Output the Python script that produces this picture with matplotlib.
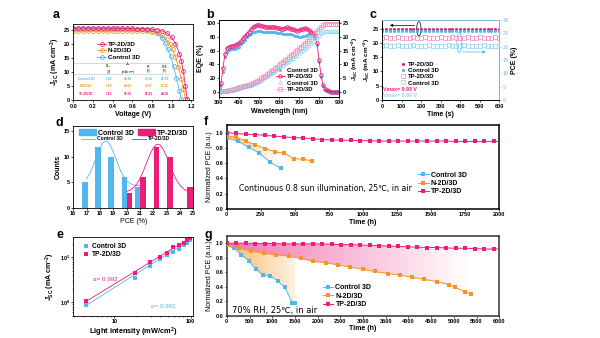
import numpy as np
import matplotlib
matplotlib.use('Agg')
import matplotlib.pyplot as plt
from matplotlib.patches import Ellipse, Polygon, Patch
from matplotlib.colors import to_rgb

plt.rcParams['font.family'] = ['Liberation Sans', 'DejaVu Sans']
plt.rcParams['font.weight'] = 'bold'
plt.rcParams['axes.labelweight'] = 'bold'
plt.rcParams['font.size'] = 4
plt.rcParams['axes.linewidth'] = 0.6
plt.rcParams['xtick.major.width'] = 0.5
plt.rcParams['ytick.major.width'] = 0.5
plt.rcParams['xtick.minor.width'] = 0.4
plt.rcParams['ytick.minor.width'] = 0.4
plt.rcParams['xtick.major.size'] = 1.5
plt.rcParams['ytick.major.size'] = 1.5
plt.rcParams['xtick.major.pad'] = 1
plt.rcParams['ytick.major.pad'] = 1
plt.rcParams['axes.labelpad'] = 1.5
plt.rcParams['mathtext.fontset'] = 'custom'
plt.rcParams['mathtext.rm'] = 'Liberation Sans:bold'
plt.rcParams['mathtext.it'] = 'Liberation Sans:italic:bold'
plt.rcParams['mathtext.bf'] = 'Liberation Sans:bold'

PINK = '#EC1C79'
ORANGE = '#F7931E'
BLUE = '#4DB7EE'
LBLUE = '#8FD3F5'
LPINK = '#F28DBB'
JSC = '$J_{\\rm SC}$ (mA cm$^{-2}$)'

# ---------------- data ----------------
# a: J-V
v_tp = [0, .05, .1, .15, .2, .25, .3, .35, .4, .45, .5, .55, .6, .65, .7, .75, .8, .85, .9, .95,
        1.0, 1.04, 1.08, 1.1, 1.12, 1.14, 1.16]
j_tp = [25.6, 25.6, 25.6, 25.6, 25.6, 25.55, 25.55, 25.55, 25.5, 25.5, 25.5, 25.45, 25.45, 25.4,
        25.35, 25.3, 25.2, 25.0, 24.6, 23.8, 22.3, 20.0, 16.5, 13.8, 10.3, 5.0, 0.4]
v_n = [0, .05, .1, .15, .2, .25, .3, .35, .4, .45, .5, .55, .6, .65, .7, .75, .8, .85, .9, .95,
       .98, 1.01, 1.04, 1.07, 1.1, 1.12, 1.14]
j_n = [24.6, 24.6, 24.6, 24.6, 24.6, 24.6, 24.6, 24.6, 24.6, 24.6, 24.6, 24.6, 24.6, 24.6, 24.6,
       24.5, 24.3, 23.9, 23.1, 21.5, 20.0, 18.0, 15.3, 11.8, 7.3, 4.0, 0.3]
v_c = [0, .05, .1, .15, .2, .25, .3, .35, .4, .45, .5, .55, .6, .65, .7, .75, .8, .85, .9,
       .93, .96, .99, 1.02, 1.05, 1.08, 1.1]
j_c = [25.35, 25.35, 25.35, 25.35, 25.35, 25.35, 25.35, 25.35, 25.35, 25.35, 25.35, 25.35, 25.35,
       25.3, 25.2, 25.0, 24.6, 23.7, 22.0, 20.4, 18.3, 15.5, 12.0, 7.8, 3.3, 0.3]
tab_names = ['Control 3D', 'N-2D/3D', 'TP-2D/3D']
tab_voc = ['1.10', '1.14', '1.16']
tab_jsc = ['25.38', '24.61', '25.56']
tab_ff = ['75.35', '78.67', '81.81']
tab_pce = ['21.09', '22.26', '24.08']

# b: EQE and integrated Jsc
wl = np.arange(300, 901, 10)
eqe_tp = [5, 12, 35, 55, 64, 66, 67, 67, 68, 69, 71, 74, 78, 81, 85, 88, 91, 94, 96, 97,
          97, 96, 96, 95, 95, 94, 94, 95, 94, 93, 93, 92, 92, 93, 94, 93, 92, 91, 90, 89,
          90, 91, 92, 93, 92, 90, 88, 86, 82, 71, 46, 24, 9, 4, 2, 1, 0, 0, 0, 0, 0]
eqe_c = [4, 10, 28, 50, 58, 61, 62, 62, 63, 64, 66, 69, 73, 76, 80, 83, 85, 87, 88, 89,
         89, 89, 88, 88, 88, 87, 87, 87, 87, 86, 86, 86, 85, 85, 85, 84, 84, 83, 82, 81,
         80, 80, 81, 82, 83, 84, 84, 83, 79, 68, 44, 22, 8, 3, 1, 0.5, 0, 0, 0, 0, 0]
int_tp = [0.0, 0.05, 0.1, 0.2, 0.3, 0.45, 0.6, 0.8, 1.0, 1.25, 1.5, 1.7, 1.9, 2.1, 2.3, 2.55,
          2.85, 3.2, 3.55, 3.9, 4.3, 4.8, 5.3, 5.8, 6.35, 6.9, 7.45, 8.0, 8.55, 9.1, 9.7, 10.3,
          10.9, 11.5, 12.1, 12.7, 13.3, 13.9, 14.5, 15.15, 15.8, 16.5, 17.15, 17.8, 18.5, 19.2,
          19.95, 20.7, 21.5, 22.3, 23.0, 23.8, 24.4, 24.7, 24.8, 24.85, 24.9, 24.9, 24.9, 24.9, 24.9]
int_c = [0.0, 0.05, 0.1, 0.2, 0.3, 0.4, 0.55, 0.7, 0.9, 1.1, 1.3, 1.5, 1.7, 1.9, 2.1, 2.3,
         2.55, 2.85, 3.15, 3.5, 3.85, 4.3, 4.75, 5.2, 5.7, 6.2, 6.65, 7.15, 7.65, 8.15, 8.7, 9.2,
         9.75, 10.3, 10.8, 11.35, 11.9, 12.45, 13.0, 13.55, 14.1, 14.7, 15.3, 15.9, 16.5, 17.15,
         17.8, 18.45, 19.15, 19.85, 20.55, 21.3, 21.85, 22.1, 22.2, 22.25, 22.3, 22.3, 22.3, 22.3, 22.3]

# c: steady-state output
t_c = np.arange(0, 601, 20)
jsc_tp_c = [24.9, 24.8, 24.9, 24.8, 24.9, 24.9, 24.8, 24.9, 24.8, 24.9, 24.9, 24.8, 24.9, 24.8, 24.8, 24.9,
            24.9, 24.8, 24.9, 24.8, 24.9, 24.8, 24.9, 24.9, 24.8, 24.9, 24.8, 24.9, 24.8, 24.9, 24.8]
jsc_c_c = [24.1, 24.2, 24.0, 24.1, 24.2, 24.1, 24.0, 24.2, 24.1, 24.1, 24.0, 24.2, 24.1, 24.0, 24.1, 24.2,
           24.1, 24.0, 24.1, 24.2, 24.1, 24.0, 24.1, 24.2, 24.1, 24.1, 24.0, 24.2, 24.1, 24.0, 24.1]
pce_tp_c = [23.4, 23.5, 23.4, 23.4, 23.5, 23.4, 23.3, 23.4, 23.5, 23.4, 23.4, 23.5, 23.4, 23.3, 23.4, 23.5,
            23.4, 23.4, 23.5, 23.4, 23.3, 23.4, 23.5, 23.4, 23.4, 23.5, 23.4, 23.3, 23.4, 23.5, 23.4]
pce_c_c = [20.4, 20.5, 20.3, 20.4, 20.5, 20.4, 20.3, 20.4, 20.5, 20.4, 20.3, 20.4, 20.5, 20.4, 20.4, 20.3,
           20.4, 20.5, 20.4, 20.3, 20.4, 20.5, 20.4, 20.4, 20.3, 20.4, 20.5, 20.4, 20.3, 20.4, 20.4]

# d: PCE histogram
pce_bins_c = [16.88, 17.85, 18.85, 19.85, 20.83]
counts_c = [5, 12, 10, 6, 4]
pce_bins_tp = [20.22, 21.22, 22.25, 23.25, 24.73]
counts_tp = [3, 6, 12, 10, 4]
fit_x_c = [17.0, 17.25, 17.5, 17.75, 18.0, 18.25, 18.5, 18.75, 19.0, 19.25, 19.5, 19.75, 20.0,
           20.25, 20.5, 20.75, 21.0]
fit_y_c = [5.66, 6.75, 8.24, 10.0, 11.65, 12.8, 13.08, 12.42, 11.0, 9.3, 7.6, 6.26, 5.34,
           4.8, 4.5, 4.38, 4.33]
fit_x_tp = [20.0, 20.25, 20.5, 20.75, 21.0, 21.25, 21.5, 21.75, 22.0, 22.25, 22.5, 22.75, 23.0,
            23.25, 23.5, 23.75, 24.0, 24.25, 24.5, 24.75]
fit_y_tp = [3.2, 3.45, 3.9, 4.6, 5.7, 7.1, 8.8, 10.4, 11.7, 12.4, 12.35, 11.5, 10.1, 8.4, 6.8,
            5.45, 4.44, 3.78, 3.39, 3.18]

# e: Jsc vs light intensity
light = [4.3, 18.8, 29, 39.3, 49, 59, 70, 81.7, 90, 98]
jl_c = [0.85, 3.5, 6.4, 9.2, 11.2, 13.3, 15.7, 18.5, 21.4, 25.0]
jl_tp = [1.05, 4.5, 7.8, 10.0, 12.4, 17.0, 18.5, 21.4, 24.4, 27.0]
fit_light = [4.3, 100]
fit_c = [0.85, 25.3]
fit_tp = [1.05, 27.8]

# f: continuous illumination
tf_c = [0, 80, 160, 240, 320, 400]
f_c = [0.93, 0.89, 0.81, 0.73, 0.61, 0.53]
tf_n = [0, 70, 140, 210, 284, 352, 421, 494, 563, 629]
f_n = [0.96, 0.94, 0.89, 0.84, 0.79, 0.75, 0.73, 0.66, 0.65, 0.63]
tf_tp = np.arange(0, 1961, 70)
f_tp = [1.00, 0.99, 0.98, 0.975, 0.965, 0.955, 0.945, 0.935, 0.93, 0.92, 0.91, 0.905, 0.90, 0.90,
        0.895, 0.895, 0.89, 0.89, 0.89, 0.89, 0.89, 0.89, 0.89, 0.89, 0.885, 0.885, 0.885, 0.885, 0.885]

# g: 70% RH
tg_c = [0, 160, 320, 480, 640, 800, 960, 1120, 1280, 1440, 1510]
g_c = [0.97, 0.93, 0.84, 0.76, 0.64, 0.56, 0.55, 0.48, 0.39, 0.18, 0.17]
tg_n = [0, 270, 540, 820, 1090, 1360, 1630, 1900, 2180, 2450, 2720, 2990, 3260, 3540, 3810,
        4080, 4350, 4620, 4900, 5030, 5250, 5380]
g_n = [0.97, 0.93, 0.89, 0.86, 0.84, 0.82, 0.79, 0.75, 0.73, 0.70, 0.67, 0.64, 0.61, 0.58, 0.56,
       0.53, 0.50, 0.47, 0.43, 0.39, 0.33, 0.30]
tg_tp = np.arange(0, 5881, 210)
g_tp = [1.00, 1.00, 1.00, 0.995, 0.995, 0.995, 0.99, 0.99, 0.99, 0.99, 0.99, 0.985, 0.98, 0.98,
        0.975, 0.97, 0.965, 0.96, 0.955, 0.95, 0.945, 0.94, 0.94, 0.935, 0.93, 0.93, 0.925, 0.92, 0.92]


def band(ax, t_lo, y_lo, t_hi, y_hi, xend, color, a0, a1):
    # gradient shading between two curves, fading to the right
    t_lo, y_lo = np.asarray(t_lo, float), np.asarray(y_lo, float)
    t_hi, y_hi = np.asarray(t_hi, float), np.asarray(y_hi, float)
    m1, m2 = t_hi < xend, t_lo < xend
    top = np.column_stack([np.r_[t_hi[m1], xend], np.r_[y_hi[m1], np.interp(xend, t_hi, y_hi)]])
    bot = np.column_stack([np.r_[t_lo[m2], xend], np.r_[y_lo[m2], np.interp(xend, t_lo, y_lo)]])
    poly = Polygon(np.vstack([top, bot[::-1]]), closed=True, fc='none', ec='none')
    ax.add_patch(poly)
    rgba = np.ones((2, 256, 4))
    rgba[..., :3] = to_rgb(color)
    rgba[..., 3] = np.linspace(a0, a1, 256)
    im = ax.imshow(rgba, extent=[0, xend, 0, 1.1], aspect='auto', zorder=1,
                   interpolation='bilinear', origin='lower')
    im.set_clip_path(poly)


fig = plt.figure(figsize=(6, 3.38), dpi=100)

# ---------------- a ----------------
ax = fig.add_axes([0.122, 0.704, 0.200, 0.225])
ax.plot(v_c, j_c, '-o', color=BLUE, mfc='none', ms=2.8, mew=0.6, lw=0.6, label='Control 3D')
ax.plot(v_n, j_n, '-o', color=ORANGE, mfc='none', ms=2.8, mew=0.6, lw=0.6, label='N-2D/3D')
ax.plot(v_tp, j_tp, '-o', color=PINK, mfc='none', ms=2.8, mew=0.6, lw=0.6, label='TP-2D/3D')
ax.set_xlim(0, 1.22)
ax.set_ylim(0, 27)
ax.set_xticks(np.arange(0, 1.21, 0.2))
ax.set_yticks(range(0, 26, 5))
ax.set_xlabel('Voltage (V)', fontsize=5)
ax.set_ylabel(JSC, fontsize=5)
h, l = ax.get_legend_handles_labels()
ax.legend(h[::-1], l[::-1], loc='upper left', bbox_to_anchor=(0.15, 0.84), frameon=False,
          fontsize=4.5, handlelength=1.5, handletextpad=0.3, labelspacing=0.15)
# small table
ax.plot([0, 0.97], [13.0, 13.0], color='#BBBBBB', lw=0.4)
ax.plot([0, 0.97], [9.4, 9.4], color='#BBBBBB', lw=0.4)
cols = [0.13, 0.36, 0.56, 0.77, 0.93]
for x, s in zip(cols[1:], ['$V_{\\rm OC}$\n(V)', '$J_{\\rm SC}$\n(mA cm$^{-2}$)', 'FF\n(%)', 'PCE\n(%)']):
    ax.text(x, 11.2, s, fontsize=2.0, ha='center', va='center', fontweight='normal',
            linespacing=1.0)
for i, col in enumerate([BLUE, ORANGE, PINK]):
    y = 7.5 - 2.6 * i
    row = [tab_names[i], tab_voc[i], tab_jsc[i], tab_ff[i], tab_pce[i]]
    for x, s in zip(cols, row):
        ax.text(x, y, s, fontsize=2.3, ha='center', va='center', color=col)

# ---------------- b ----------------
ax = fig.add_axes([0.365, 0.713, 0.200, 0.228])
ax2 = ax.twinx()
l1, = ax.plot(wl, eqe_c, 'o', color=BLUE, ms=2.2, mew=0, label='Control 3D')
l2, = ax.plot(wl, eqe_tp, '-o', color=PINK, mfc='none', ms=2.6, mew=0.6, lw=0.6, label='TP-2D/3D')
l3, = ax2.plot(wl, int_c, '^', color=LBLUE, mfc='none', ms=2.6, mew=0.5, label='Control 3D')
l4, = ax2.plot(wl, int_tp, '-s', color=LPINK, mfc='none', ms=2.6, mew=0.5, lw=0.5, label='TP-2D/3D')
ax.set_xlim(300, 900)
ax.set_ylim(-8, 105)
ax2.set_ylim(-2, 26.25)
ax.set_xticks(range(300, 901, 100))
ax.set_yticks(range(0, 101, 20))
ax2.set_yticks(range(0, 26, 5))
ax.set_xlabel('Wavelength (nm)', fontsize=5)
ax.set_ylabel('EQE (%)', fontsize=5)
ax2.set_ylabel(JSC, fontsize=4.6, labelpad=0.8)
ax.legend([l1, l2, l3, l4], ['Control 3D', 'TP-2D/3D', 'Control 3D', 'TP-2D/3D'], loc='lower left',
          bbox_to_anchor=(0.43, 0.0), frameon=False, fontsize=4.3, handlelength=1.5,
          handletextpad=0.3, labelspacing=0.15)

# ---------------- c ----------------
ax = fig.add_axes([0.637, 0.704, 0.195, 0.237])
ax2 = ax.twinx()
p1, = ax.plot(t_c, jsc_tp_c, 'o', color=PINK, ms=2.2, mew=0, label='TP-2D/3D')
p2, = ax.plot(t_c, jsc_c_c, 'o', color=BLUE, ms=2.2, mew=0, label='Control 3D')
p3, = ax2.plot(t_c, pce_tp_c, 's', color=LPINK, mfc='none', ms=2.8, mew=0.5, label='TP-2D/3D')
p4, = ax2.plot(t_c, pce_c_c, 's', color=LBLUE, mfc='none', ms=2.8, mew=0.5, label='Control 3D')
ax.set_xlim(0, 600)
ax.set_ylim(0, 28)
ax2.set_ylim(0, 30)
ax.set_xticks(range(0, 601, 100))
ax.set_yticks(range(0, 26, 5))
ax2.set_yticks(range(0, 31, 5))
ax2.tick_params(axis='y', colors=LBLUE)
ax2.spines['right'].set_color(LBLUE)
ax2.spines['top'].set_color(LBLUE)
ax.set_xlabel('Time (s)', fontsize=5)
ax.set_ylabel(JSC, fontsize=4.6, labelpad=0.5)
ax2.set_ylabel('PCE (%)', fontsize=5)
ax.add_patch(Ellipse((188, 24.9), 22, 5, fill=False, ec='k', lw=0.5))
ax.annotate('', xy=(25, 26.1), xytext=(180, 26.1),
            arrowprops=dict(arrowstyle='-|>', color='k', lw=0.5, mutation_scale=4))
ax.add_patch(Ellipse((395, 20.1), 24, 7, fill=False, ec=BLUE, lw=0.5))
ax.annotate('', xy=(545, 16.8), xytext=(398, 16.8),
            arrowprops=dict(arrowstyle='-|>', color=BLUE, lw=0.5, mutation_scale=4))
ax.text(6, 3.8, 'Vmax= 0.93 V', color=PINK, fontsize=3.8, va='center')
ax.text(6, 1.6, 'Vmax= 0.86 V', color=LBLUE, fontsize=3.8, va='center')
ax.legend([p1, p2, p3, p4], ['TP-2D/3D', 'Control 3D', 'TP-2D/3D', 'Control 3D'], loc='upper left',
          bbox_to_anchor=(0.1, 0.54), frameon=False, fontsize=4.3, handlelength=1.2,
          handletextpad=0.3, labelspacing=0.15)

# ---------------- d ----------------
ax = fig.add_axes([0.122, 0.385, 0.200, 0.242])
ax.bar(pce_bins_c, counts_c, width=0.42, color=BLUE)
ax.bar(pce_bins_tp, counts_tp, width=0.44, color=PINK)
f1, = ax.plot(fit_x_c, fit_y_c, color=BLUE, lw=0.6)
f2, = ax.plot(fit_x_tp, fit_y_tp, color=PINK, lw=0.6)
ax.set_xlim(16, 25)
ax.set_ylim(0, 16)
ax.set_xticks(range(16, 26))
ax.set_yticks([0, 5, 10, 15])
ax.set_xlabel('PCE (%)', fontsize=5, fontweight='normal')
ax.set_ylabel('Counts', fontsize=5)
leg = ax.legend([Patch(color=BLUE), Patch(color=PINK)], ['Control 3D', 'TP-2D/3D'], ncol=2,
                loc='upper left', bbox_to_anchor=(0.0, 1.04), frameon=False, fontsize=5,
                handlelength=2.4, handleheight=1.0, handletextpad=0.3, columnspacing=0.6)
ax.add_artist(leg)
ax.legend([f1, f2], ['Control 3D', 'TP-2D/3D'], ncol=2, loc='upper left',
          bbox_to_anchor=(0.03, 0.93), frameon=False, fontsize=3.6, handlelength=2.8,
          handletextpad=0.3, columnspacing=1.9)

# ---------------- e ----------------
ax = fig.add_axes([0.122, 0.066, 0.200, 0.233])
ax.plot(fit_light, fit_c, color=BLUE, lw=0.6)
ax.plot(fit_light, fit_tp, color=PINK, lw=0.6)
ax.plot(light, jl_c, 's', color=BLUE, ms=2.6, mew=0, label='Control 3D')
ax.plot(light, jl_tp, 's', color=PINK, ms=2.6, mew=0, label='TP-2D/3D')
ax.set_xscale('log')
ax.set_yscale('log')
ax.set_xlim(2.9, 108)
ax.set_ylim(0.5, 28.6)
ax.set_xticks([10, 100])
ax.set_xticklabels(['10', '100'])
ax.set_yticks([1, 10])
ax.set_yticklabels(['10$^0$', '10$^1$'])
ax.tick_params(which='minor', length=0.8)
ax.set_xlabel('Light intensity (mW/cm$^2$)', fontsize=5.3, labelpad=0.8)
ax.set_ylabel(JSC, fontsize=5)
ax.text(5.2, 3.2, '\u03b1= 0.992', color=PINK, fontsize=4.5, fontweight='normal', va='center')
ax.text(30, 0.8, '\u03b1= 0.981', color=BLUE, fontsize=4.5, fontweight='normal', va='center')
ax.legend(loc='upper left', bbox_to_anchor=(0.03, 1.0), frameon=False, fontsize=4.8,
          handlelength=1.0, handletextpad=0.4, labelspacing=0.2)

# ---------------- f ----------------
ax = fig.add_axes([0.378, 0.382, 0.454, 0.248])
band(ax, tf_c, f_c, tf_n, f_n, 400, ORANGE, 0.5, 0.0)
ax.plot(tf_c, f_c, '-s', color=BLUE, ms=2.6, mew=0, lw=0.7, label='Control 3D', zorder=3)
ax.plot(tf_n, f_n, '-s', color=ORANGE, ms=2.6, mew=0, lw=0.7, label='N-2D/3D', zorder=3)
ax.plot(list(tf_tp) + [2000], f_tp + [f_tp[-1]], '-', color=PINK, lw=0.7, zorder=3)
ax.plot(tf_tp, f_tp, 's', color=PINK, ms=2.6, mew=0, zorder=3)
ax.plot([], [], '-s', color=PINK, ms=2.6, mew=0, lw=0.7, label='TP-2D/3D')
ax.set_xlim(0, 2000)
ax.set_ylim(0, 1.1)
ax.set_xticks(range(0, 2001, 250))
ax.set_yticks(np.arange(0, 1.01, 0.2))
ax.set_xlabel('Time (h)', fontsize=5)
ax.set_ylabel('Normalized PCE (a.u.)', fontsize=5, fontweight='normal')
for s in ax.spines.values():
    s.set_linewidth(1.1)
ax.text(90, 0.27, 'Continuous 0.8 sun illumination, 25\u2103, in air', fontsize=5.6,
        fontweight='normal', va='center', family=['DejaVu Sans'])
ax.legend(loc='upper left', bbox_to_anchor=(0.68, 0.52), frameon=False, fontsize=5,
          handlelength=1.5, handletextpad=0.3, labelspacing=0.2)

# ---------------- g ----------------
ax = fig.add_axes([0.378, 0.066, 0.454, 0.236])
band(ax, tg_n, g_n, tg_tp, g_tp, 5380, PINK, 0.6, 0.0)
band(ax, tg_c, g_c, tg_n, g_n, 1510, ORANGE, 0.65, 0.12)
ax.plot(tg_c, g_c, '-s', color=BLUE, ms=2.6, mew=0, lw=0.7, label='Control 3D', zorder=3)
ax.plot(tg_n, g_n, '-s', color=ORANGE, ms=2.6, mew=0, lw=0.7, label='N-2D/3D', zorder=3)
ax.plot(list(tg_tp) + [6000], g_tp + [g_tp[-1]], '-', color=PINK, lw=0.7, zorder=3)
ax.plot(tg_tp, g_tp, 's', color=PINK, ms=2.6, mew=0, zorder=3)
ax.plot([], [], '-s', color=PINK, ms=2.6, mew=0, lw=0.7, label='TP-2D/3D')
ax.set_xlim(0, 6000)
ax.set_ylim(0, 1.1)
ax.set_xticks(range(0, 6001, 500))
ax.set_yticks(np.arange(0, 1.01, 0.2))
ax.set_xlabel('Time (h)', fontsize=5, labelpad=0.8)
ax.set_ylabel('Normalized PCE (a.u.)', fontsize=5, fontweight='normal')
for s in ax.spines.values():
    s.set_linewidth(1.1)
    s.set_color('#333333')
ax.text(120, 0.07, '70% RH, 25\u2103, in air', fontsize=6, fontweight='normal', va='center',
        family=['DejaVu Sans'])
ax.legend(loc='upper left', bbox_to_anchor=(0.33, 0.47), frameon=False, fontsize=5,
          handlelength=1.5, handletextpad=0.3, labelspacing=0.2)

# panel letters
for x, y, s in [(0.088, 0.955, 'a'), (0.343, 0.955, 'b'), (0.615, 0.955, 'c'), (0.092, 0.635, 'd'),
                (0.340, 0.640, 'f'), (0.094, 0.305, 'e'), (0.340, 0.305, 'g')]:
    fig.text(x, y, s, fontsize=9, fontweight='bold', va='center')

fig.savefig('out.png', dpi=100)
